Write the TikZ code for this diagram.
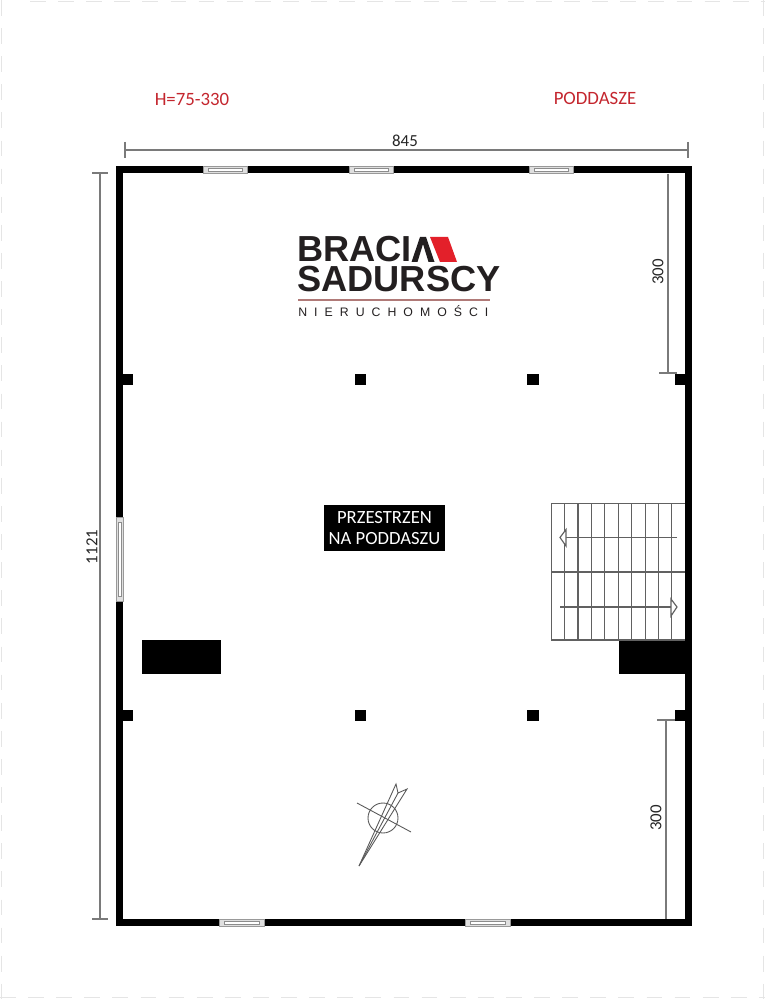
\documentclass[tikz,border=0pt]{standalone}
\usepackage{fontspec}
\setmainfont{Carlito}
\newfontfamily\logofont[LetterSpace=0]{Liberation Sans}
\newfontfamily\logosmall[LetterSpace=57]{Liberation Sans}
\definecolor{labelred}{HTML}{C4262E}
\definecolor{logored}{HTML}{E3202A}
\definecolor{logoink}{HTML}{231F20}
\definecolor{logorule}{HTML}{B07A78}
\definecolor{dimgray}{HTML}{7A7A7A}
\tikzset{
    wall/.style={fill=black,draw=none},
    dimline/.style={draw=dimgray,line width=0.7pt},
    dimtext/.style={font=\fontsize{9.6}{11}\selectfont,text=black!85,inner sep=0pt},
    redtext/.style={font=\fontsize{10.7}{12}\selectfont,text=labelred,inner sep=0pt},
    windowframe/.style={draw=gray!80,fill=gray!25,line width=0.4pt},
    windowpane/.style={draw=gray!90,fill=white,line width=0.35pt},
    stairline/.style={draw=black!62,line width=0.65pt},
    pagemark/.style={draw=black!10,line width=0.5pt,dash pattern=on 9pt off 7pt},
    compassline/.style={draw=black!65,line width=0.5pt}
}
\begin{document}
\begin{tikzpicture}[x=0.02cm,y=-0.02cm]
\useasboundingbox [fill=white] (0,0) rectangle (765,999);
\draw [pagemark] (30,1.5) -- (765,1.5);
\draw [pagemark] (0,997.5) -- (765,997.5);
\draw [pagemark] (1.5,0) -- (1.5,999);
\draw [pagemark] (763.5,0) -- (763.5,999);
% outer walls
\fill [wall] (116,166) rectangle (692,173.5);
\fill [wall] (116,919) rectangle (692,926);
\fill [wall] (116,166) rectangle (123,926);
\fill [wall] (685,166) rectangle (692,926);
% windows
\foreach \i in {203, 349, 529} {
    \draw [windowframe] (\i,166.5) rectangle (\i+44,173.5);
    \draw [windowpane] (\i+5,168.8) rectangle (\i+39,171.2);
}
\foreach \i in {219, 465} {
    \draw [windowframe] (\i,919.5) rectangle (\i+45,926);
    \draw [windowpane] (\i+5,921.6) rectangle (\i+40,924);
}
\draw [windowframe] (116.5,517) rectangle (123,601);
\draw [windowpane] (118.6,522) rectangle (121,596);
% columns
\foreach \j in {380, 715} {
    \fill [wall] (122,\j-5.5) rectangle (132.5,\j+5.5);
    \fill [wall] (354.5,\j-5.5) rectangle (366,\j+5.5);
    \fill [wall] (527,\j-5.5) rectangle (538.5,\j+5.5);
    \fill [wall] (675,\j-5.5) rectangle (685,\j+5.5);
}
\fill [wall] (142,640) rectangle (221,674);
\fill [wall] (618.5,640) rectangle (685,674);
% stairs
\foreach \i in {564.3, 578, 591.3, 604.3, 618.7, 631.7, 645.3, 658.7, 671.7} {
    \draw [stairline] (\i,503.5) -- (\i,640);
}
\draw [stairline] (685,503.5) -- (551.5,503.5) -- (551.5,640) -- (685,640);
\draw [stairline,line width=0.9pt] (551.5,572) -- (685,572);
\draw [stairline] (677,537.5) -- (566,537.5);
\draw [stairline,fill=white] (566,529.5) -- (560,537.5) -- (566,546) -- cycle;
\draw [stairline] (560,607) -- (671,607);
\draw [stairline,fill=white] (671,599) -- (677,607) -- (671,616) -- cycle;
% dimensions
\draw [dimline] (125,150) -- (688,150);
\draw [dimline] (125,142) -- (125,158);
\draw [dimline] (688,142) -- (688,158);
\node [dimtext] (widthlabel) at (405,141) {845};
\draw [dimline] (100,173) -- (100,919);
\draw [dimline] (92,173) -- (108,173);
\draw [dimline] (92,919) -- (108,919);
\node [dimtext,rotate=90] (heightlabel) at (92,547) {1121};
\draw [dimline] (668,174) -- (668,373);
\draw [dimline] (659,373) -- (677,373);
\node [dimtext,rotate=90] (topthree) at (658,272) {300};
\draw [dimline] (666,720) -- (666,919);
\draw [dimline] (657,720) -- (675,720);
\node [dimtext,rotate=90] (bottomthree) at (656,818) {300};
\node [redtext] (heightnote) at (192,99) {H=75-330};
\node [redtext] (floorname) at (595,98) {PODDASZE};
% logo
\fill [logored] (430,237) -- (448,237) -- (457,262) -- (440,262) -- cycle;
\fill [logoink] (411.5,262) -- (420,237) -- (426,237) -- (434.5,262) -- (428.5,262) -- (423,244) -- (417.5,262) -- cycle;
\node [anchor=south west,inner sep=0pt,text=logoink,align=left,font=\logofont\bfseries\fontsize{20.6}{17}\selectfont] (logotext) at (297,292.4) {BRACI\\SADURSCY};
\draw [logorule,line width=0.9pt] (298,300) -- (490,300);
\node [anchor=base west,inner sep=0pt,text=logoink,font=\logosmall\fontsize{7}{8}\selectfont] (logosub) at (298,316.5) {NIERUCHOMOŚCI};
% label in the middle
\node [fill=black,text=white,minimum width=68.8pt,minimum height=26pt,inner sep=0pt,align=center,font=\fontsize{10.6}{11.6}\selectfont] (spacelabel) at (384.5,528) {PRZESTRZEN\\NA PODDASZU};
% compass
\draw [compassline] (383,818) circle (15);
\draw [compassline] (357,803) -- (411,832);
\draw [compassline] (359,866) -- (396,784) -- (398,793) -- (407,789) -- cycle;
\draw [compassline] (359,866) -- (398,793);
\end{tikzpicture}
\end{document}
